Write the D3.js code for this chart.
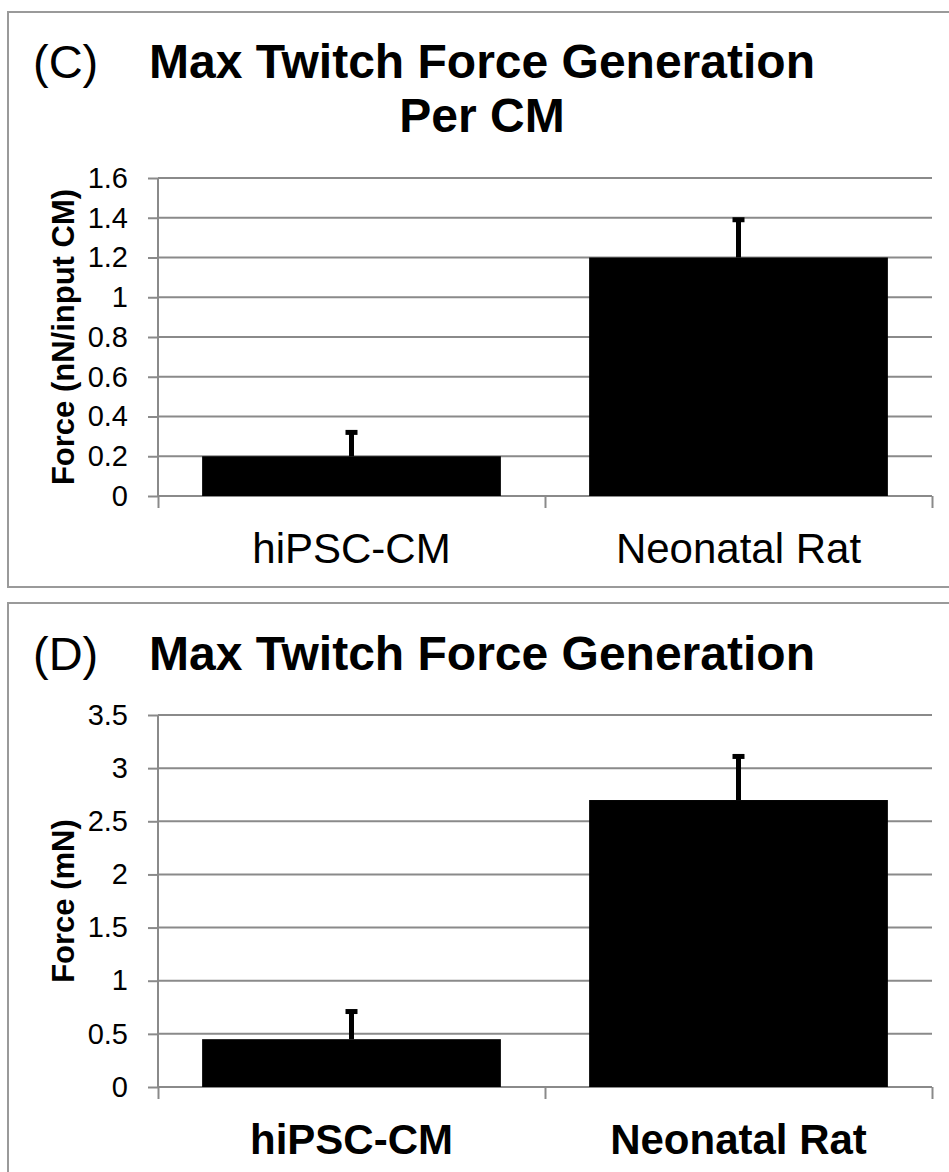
<!DOCTYPE html>
<html>
<head>
<meta charset="utf-8">
<script src="https://cdn.jsdelivr.net/npm/d3@7"></script>
<style>
  body { margin: 0; background: #fff; }
</style>
</head>
<body>
<svg id="chart"></svg>
<script>
const categories = ["hiPSC-CM", "Neonatal Rat"];

const perCmForce = [0.2, 1.2];
const perCmError = [0.12, 0.19];
const perCmTicks = [0, 0.2, 0.4, 0.6, 0.8, 1, 1.2, 1.4, 1.6];

const totalForce = [0.45, 2.7];
const totalError = [0.26, 0.41];
const totalTicks = [0, 0.5, 1, 1.5, 2, 2.5, 3, 3.5];

const width = 949;
const height = 1172;
const fontFamily = "'Liberation Sans', Arial, Helvetica, sans-serif";
const gridColour = "#8a8a8a";

const svg = d3.select("#chart")
    .attr("width", width)
    .attr("height", height)
    .style("background-color", "white");

function drawPanel(p) {
    const g = svg.append("g");

    // panel frame, runs off the right (and for D the bottom) edge
    g.append("rect")
        .attr("x", 8)
        .attr("y", p.frameTop)
        .attr("width", 1000)
        .attr("height", p.frameBottom - p.frameTop)
        .style("fill", "none")
        .style("stroke", "#9a9a9a")
        .style("stroke-width", 2);

    g.append("text")
        .attr("x", 33)
        .attr("y", p.titleY)
        .style("font-family", fontFamily)
        .style("font-size", "47px")
        .text(p.letter);

    p.title.forEach((t, i) => {
        g.append("text")
            .attr("x", 482)
            .attr("y", p.titleY + i * 54)
            .attr("text-anchor", "middle")
            .style("font-family", fontFamily)
            .style("font-size", "48px")
            .style("font-weight", "bold")
            .text(t);
    });

    const left = 158, right = 932;

    const yScale = d3.scaleLinear()
        .domain([0, d3.max(p.ticks)])
        .range([p.bottom, p.top]);

    const slot = d3.scaleBand()
        .domain(categories)
        .range([left, right])
        .padding(0);

    const bar = d3.scaleBand()
        .domain(categories)
        .range([left, right])
        .paddingInner(0.228)
        .paddingOuter(0.114);

    // gridlines
    g.append("g")
        .selectAll("line")
        .data(p.ticks)
        .join("line")
        .attr("x1", left)
        .attr("x2", right)
        .attr("y1", d => yScale(d))
        .attr("y2", d => yScale(d))
        .style("stroke", gridColour)
        .style("stroke-width", 2);

    const yAxis = d3.axisLeft(yScale)
        .tickValues(p.ticks)
        .tickFormat(d => String(d))
        .tickSize(10)
        .tickPadding(20)
        .tickSizeOuter(0);

    const yG = g.append("g")
        .attr("transform", "translate(" + left + ",0)")
        .call(yAxis);
    yG.select(".domain").remove();
    yG.selectAll("line").style("stroke", gridColour).style("stroke-width", 2);
    yG.selectAll("text")
        .style("font-family", fontFamily)
        .style("font-size", "29px")
        .style("fill", "#000");

    // category axis with ticks on slot boundaries
    const edge = d3.scaleLinear().domain([0, categories.length]).range([left, right]);
    const xG = g.append("g")
        .attr("transform", "translate(0," + p.bottom + ")")
        .call(d3.axisBottom(edge).tickValues(d3.range(categories.length + 1)).tickFormat("").tickSize(12).tickSizeOuter(0));
    xG.select(".domain").remove();
    xG.selectAll("line").style("stroke", gridColour).style("stroke-width", 2);

    g.append("line")
        .attr("x1", left).attr("x2", left)
        .attr("y1", p.top).attr("y2", p.bottom)
        .style("stroke", gridColour)
        .style("stroke-width", 2);

    // bars
    g.append("g")
        .selectAll("rect")
        .data(p.values)
        .join("rect")
        .attr("x", (d, i) => bar(categories[i]))
        .attr("width", bar.bandwidth())
        .attr("y", d => yScale(d))
        .attr("height", d => p.bottom - yScale(d))
        .style("fill", "#000");

    // plus error bars
    const errs = g.append("g");
    p.values.forEach((v, i) => {
        const cx = slot(categories[i]) + slot.bandwidth() / 2;
        errs.append("line")
            .attr("x1", cx).attr("x2", cx)
            .attr("y1", yScale(v)).attr("y2", yScale(v + p.errors[i]))
            .style("stroke", "#000")
            .style("stroke-width", 5);
        errs.append("line")
            .attr("x1", cx - 6).attr("x2", cx + 6)
            .attr("y1", yScale(v + p.errors[i])).attr("y2", yScale(v + p.errors[i]))
            .style("stroke", "#000")
            .style("stroke-width", 5);
    });

    // category labels
    g.append("g")
        .selectAll("text")
        .data(categories)
        .join("text")
        .attr("x", d => slot(d) + slot.bandwidth() / 2)
        .attr("y", p.bottom + 67)
        .attr("text-anchor", "middle")
        .style("font-family", fontFamily)
        .style("font-size", "42px")
        .style("font-weight", p.boldCategories ? "bold" : "normal")
        .text(d => d);

    g.append("text")
        .attr("transform", "translate(74," + ((p.top + p.bottom) / 2) + ") rotate(-90)")
        .attr("text-anchor", "middle")
        .style("font-family", fontFamily)
        .style("font-size", "31px")
        .style("font-weight", "bold")
        .text(p.yLabel);
}

drawPanel({
    letter: "(C)",
    title: ["Max Twitch Force Generation", "Per CM"],
    titleY: 78,
    frameTop: 12,
    frameBottom: 587,
    top: 178,
    bottom: 496,
    ticks: perCmTicks,
    values: perCmForce,
    errors: perCmError,
    yLabel: "Force (nN/input CM)",
    boldCategories: false
});

drawPanel({
    letter: "(D)",
    title: ["Max Twitch Force Generation"],
    titleY: 670,
    frameTop: 603,
    frameBottom: 1200,
    top: 715,
    bottom: 1087,
    ticks: totalTicks,
    values: totalForce,
    errors: totalError,
    yLabel: "Force (mN)",
    boldCategories: true
});
</script>
</body>
</html>
